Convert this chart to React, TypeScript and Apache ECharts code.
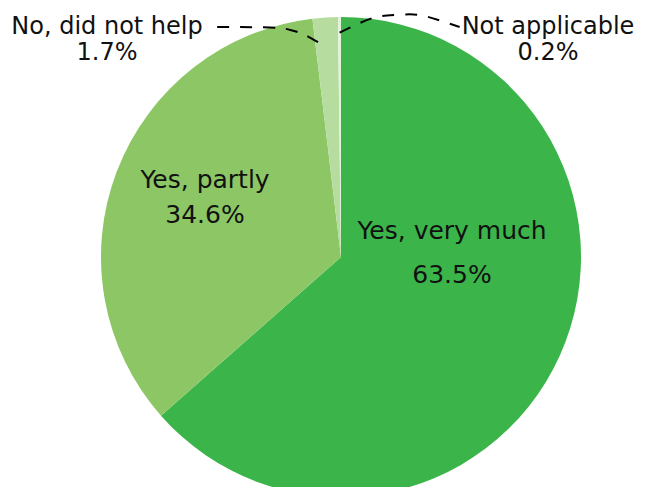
import React, { useEffect, useRef } from "react";
import * as echarts from "echarts";

const categories = ["Yes, very much", "Yes, partly", "No, did not help", "Not applicable"];
const shares = [63.5, 34.6, 1.7, 0.2];
const colors = ["#3bb54a", "#8cc665", "#b6dd9f", "#e4f2da"];

const CX = 341;
const CY = 257;
const R = 240;

// label block centres, font sizes and line heights per slice
const labelSpots: [number, number][] = [
  [452, 252],
  [205, 197],
  [107, 39],
  [548, 39],
];
const fontSizes = [25, 25, 24, 24];
const lineHeights = [44, 35, 26, 26];
// where a leader line leaves its slice: fraction along the slice, fraction of radius
const anchorSpots: [number, number][] = [
  [0.5, 0.5],
  [0.5, 0.5],
  [0.12, 0.9],
  [0.5, 0.935],
];
// bend of the curved leader lines, relative to the slice anchor
const kneeOffsets: [number, number][] = [
  [0, 0],
  [0, 0],
  [-26, -15],
  [56, -27],
];

export default function App() {
  const ref = useRef<HTMLDivElement>(null);
  useEffect(() => {
    const chart = echarts.init(ref.current!, null, { renderer: "svg" });
    const total = shares.reduce((a, b) => a + b, 0);
    const anchorAngles: number[] = [];
    let acc = 0;
    shares.forEach((v, i) => {
      const a = 90 - ((acc + v * anchorSpots[i][0]) / total) * 360;
      anchorAngles.push((a * Math.PI) / 180);
      acc += v;
    });
    const font = "DejaVu Sans";
    const common = {
      type: "pie",
      center: [CX, CY],
      radius: R,
      startAngle: 90,
      clockwise: true,
      avoidLabelOverlap: false,
    };
    chart.setOption({
      animation: false,
      series: [
        // the coloured slices
        {
          ...common,
          z: 2,
          silent: true,
          label: { show: false },
          labelLine: { show: false },
          data: categories.map((name, i) => ({
            name,
            value: shares[i],
            itemStyle: { color: colors[i] },
          })),
        },
        // see-through copy on top that carries the labels and leader lines
        {
          ...common,
          z: 3,
          silent: true,
          data: categories.map((name, i) => ({
            name,
            value: shares[i],
            itemStyle: { color: "rgba(0,0,0,0)" },
            label: {
              position: i < 2 ? "inside" : "outside",
              fontSize: fontSizes[i],
              lineHeight: lineHeights[i],
            },
            labelLine: { show: i >= 2 },
          })),
          label: {
            formatter: (p: any) => `${p.name}\n${p.value.toFixed(1)}%`,
            color: "#111",
            fontFamily: font,
            align: "center",
          },
          labelLine: {
            show: true,
            showAbove: true,
            smooth: 0.4,
            lineStyle: { color: "#000", width: 2, type: [12, 11] },
          },
          labelLayout: (p: any) => {
            const i = p.dataIndex;
            const [x, y] = labelSpots[i];
            const out: any = { x, y, align: "center", verticalAlign: "middle" };
            if (i >= 2) {
              const w = p.labelRect.width;
              const ang = anchorAngles[i];
              const ar = R * anchorSpots[i][1];
              const ax = CX + ar * Math.cos(ang);
              const ay = CY - ar * Math.sin(ang);
              const k = kneeOffsets[i];
              const lineY = y - lineHeights[i] / 2 + 1;
              const ex = i === 2 ? x + w / 2 + 6 : x - w / 2 - 2;
              out.labelLinePoints = [
                [ax, ay],
                [ax + k[0], ay + k[1]],
                [ex, lineY],
              ];
            }
            return out;
          },
        },
      ],
    });
    return () => chart.dispose();
  }, []);
  return <div ref={ref} style={{ width: 645, height: 495, margin: -8 }} />;
}
